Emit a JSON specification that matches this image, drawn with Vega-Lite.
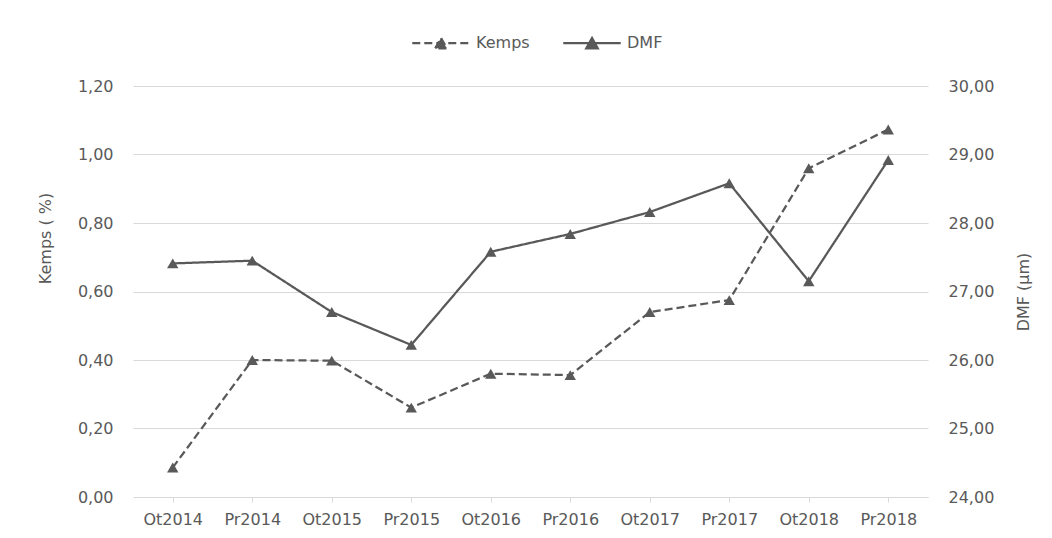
{
  "$schema": "https://vega.github.io/schema/vega-lite/v6.json",
  "width": 795,
  "height": 411,
  "autosize": {"type": "none"},
  "padding": {"left": 133, "top": 86, "right": 124, "bottom": 41},
  "background": "white",
  "config": {
    "view": {"stroke": null},
    "font": "DejaVu Sans",
    "axis": {
      "labelFont": "DejaVu Sans",
      "labelFontSize": 16,
      "labelColor": "#595959",
      "titleFont": "DejaVu Sans",
      "titleFontSize": 16,
      "titleFontWeight": "normal",
      "titleColor": "#595959",
      "gridColor": "#d9d9d9",
      "domainColor": "#d9d9d9",
      "tickColor": "#d9d9d9"
    }
  },
  "data": {
    "values": [
      {"period": "Ot2014", "series": "Kemps", "value": 0.086},
      {"period": "Pr2014", "series": "Kemps", "value": 0.40},
      {"period": "Ot2015", "series": "Kemps", "value": 0.398},
      {"period": "Pr2015", "series": "Kemps", "value": 0.261},
      {"period": "Ot2016", "series": "Kemps", "value": 0.36},
      {"period": "Pr2016", "series": "Kemps", "value": 0.356},
      {"period": "Ot2017", "series": "Kemps", "value": 0.54},
      {"period": "Pr2017", "series": "Kemps", "value": 0.575},
      {"period": "Ot2018", "series": "Kemps", "value": 0.96},
      {"period": "Pr2018", "series": "Kemps", "value": 1.073},
      {"period": "Ot2014", "series": "DMF", "value": 27.41},
      {"period": "Pr2014", "series": "DMF", "value": 27.45},
      {"period": "Ot2015", "series": "DMF", "value": 26.70},
      {"period": "Pr2015", "series": "DMF", "value": 26.22},
      {"period": "Ot2016", "series": "DMF", "value": 27.58},
      {"period": "Pr2016", "series": "DMF", "value": 27.84},
      {"period": "Ot2017", "series": "DMF", "value": 28.16},
      {"period": "Pr2017", "series": "DMF", "value": 28.58},
      {"period": "Ot2018", "series": "DMF", "value": 27.15},
      {"period": "Pr2018", "series": "DMF", "value": 28.92}
    ]
  },
  "encoding": {
    "x": {
      "field": "period",
      "type": "ordinal",
      "sort": null,
      "scale": {"type": "point", "padding": 0.5},
      "axis": {
        "title": null,
        "labelAngle": 0,
        "labelPadding": 9,
        "tickSize": 5,
        "domain": true,
        "grid": false
      }
    },
    "strokeDash": {
      "field": "series",
      "type": "nominal",
      "scale": {"domain": ["Kemps", "DMF"], "range": [[8, 4], [1, 0]]},
      "legend": {
        "orient": "none",
        "legendX": 278,
        "legendY": -73,
        "direction": "horizontal",
        "title": null,
        "symbolType": "M-1,0L1,0M-0.2,0.18L0,-0.18L0.2,0.18Z",
        "symbolSize": 3300,
        "symbolStrokeColor": "#595959",
        "symbolFillColor": "#595959",
        "symbolStrokeWidth": 2.25,
        "labelFont": "DejaVu Sans",
        "labelFontSize": 16,
        "labelColor": "#595959",
        "labelOffset": 5,
        "columnPadding": 28,
        "encode": {
          "symbols": {
            "update": {
              "stroke": {"value": "#595959"},
              "strokeWidth": {"value": 2.25},
              "fill": {"value": "#595959"},
              "opacity": {"value": 1}
            }
          }
        }
      }
    }
  },
  "layer": [
    {
      "transform": [{"filter": "datum.series === 'Kemps'"}],
      "mark": {
        "type": "line",
        "color": "#595959",
        "strokeWidth": 2.25,
        "point": {"shape": "triangle-up", "size": 130, "filled": true, "color": "#595959"}
      },
      "encoding": {
        "y": {
          "field": "value",
          "type": "quantitative",
          "scale": {"domain": [0, 1.2], "nice": false, "zero": false},
          "axis": {
            "orient": "left",
            "values": [0, 0.2, 0.4, 0.6, 0.8, 1.0, 1.2],
            "labelExpr": "replace(format(datum.value, '.2f'), '.', ',')",
            "grid": true,
            "domain": false,
            "ticks": false,
            "labelPadding": 20,
            "title": "Kemps ( %)",
            "titlePadding": 24,
            "titleY": 152
          }
        }
      }
    },
    {
      "transform": [{"filter": "datum.series === 'DMF'"}],
      "mark": {
        "type": "line",
        "color": "#595959",
        "strokeWidth": 2.25,
        "point": {"shape": "triangle-up", "size": 130, "filled": true, "color": "#595959"}
      },
      "encoding": {
        "y": {
          "field": "value",
          "type": "quantitative",
          "scale": {"domain": [24, 30], "nice": false, "zero": false},
          "axis": {
            "orient": "right",
            "values": [24, 25, 26, 27, 28, 29, 30],
            "labelExpr": "replace(format(datum.value, '.2f'), '.', ',')",
            "grid": false,
            "domain": false,
            "ticks": false,
            "labelPadding": 20,
            "title": "DMF (µm)",
            "titleAngle": 270,
            "titlePadding": 38
          }
        }
      }
    }
  ],
  "resolve": {"scale": {"y": "independent"}}
}
